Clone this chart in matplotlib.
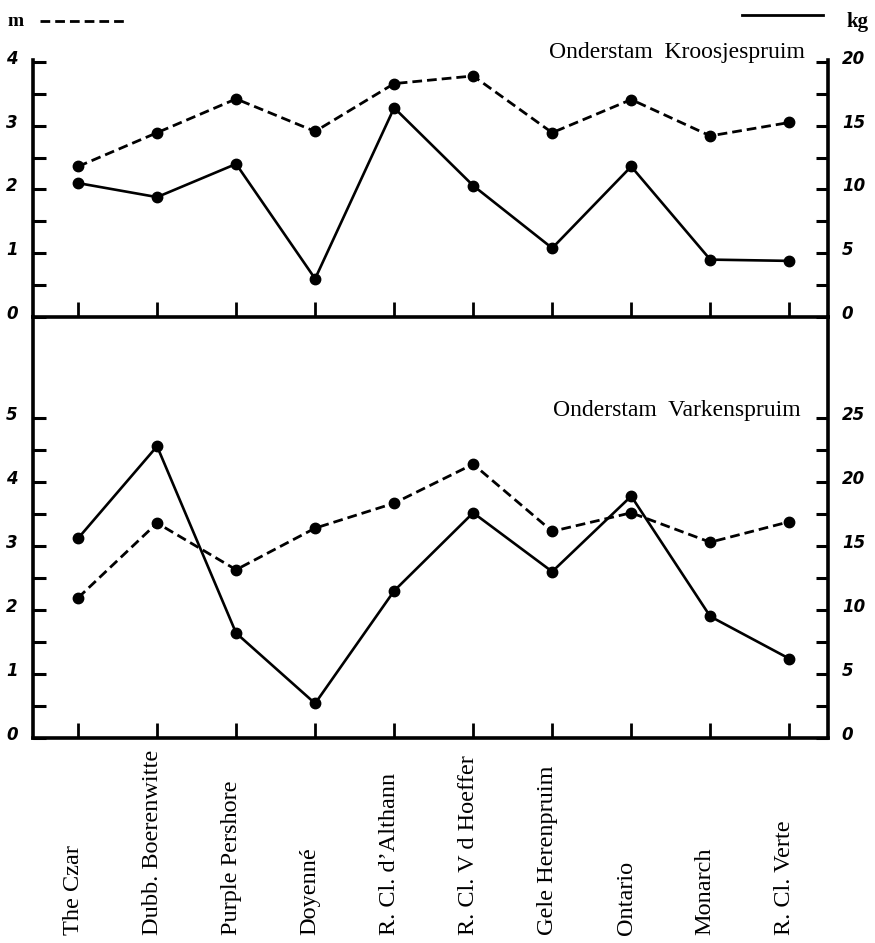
import matplotlib
matplotlib.use("Agg")
import matplotlib.pyplot as plt
import matplotlib.transforms as mtransforms
from matplotlib.lines import Line2D
import numpy as np

varieties = ["The Czar", "Dubb. Boerenwitte", "Purple Pershore", "Doyenné",
             "R. Cl. d\u2019Althann", "R. Cl. V d Hoeffer", "Gele Herenpruim",
             "Ontario", "Monarch", "R. Cl. Verte"]

# Onderstam Kroosjespruim: boomhoogte (m) en opbrengst (kg)
kroos_m = [2.36, 2.89, 3.42, 2.91, 3.66, 3.78, 2.89, 3.41, 2.84, 3.05]
kroos_kg = [10.5, 9.4, 12.0, 3.0, 16.4, 10.3, 5.4, 11.8, 4.5, 4.4]

# Onderstam Varkenspruim
varken_m = [2.19, 3.36, 2.63, 3.28, 3.67, 4.28, 3.23, 3.52, 3.06, 3.38]
varken_kg = [15.6, 22.8, 8.2, 2.7, 11.5, 17.6, 13.0, 18.9, 9.5, 6.2]

SERIF = "Liberation Serif"
NUMFONT = dict(family="DejaVu Sans", style="italic", weight="bold", size=12)
KG_PER_M = 5.0

fig = plt.figure(figsize=(8.75, 9.43), dpi=100)
x = np.arange(len(varieties))

L, W = 33 / 875, (828 - 33) / 875
top_rect = [L, 1 - 317 / 943, W, (317 - 60) / 943]
bot_rect = [L, 1 - 738 / 943, W, (738 - 317) / 943]


def make_panel(rect, m, kg, ytop, mmax, title, title_y):
    ax = fig.add_axes(rect)
    ax.patch.set_alpha(0)
    ax2 = ax.twinx()

    ax.plot(x, m, color="black", lw=2.0, dashes=(3.5, 1.8),
            marker="o", ms=7.5, zorder=3)
    ax2.plot(x, kg, color="black", lw=1.9, marker="o", ms=7.5, zorder=3)

    ax.set_xlim(-0.57, 9.49)
    ax.set_ylim(0, ytop)
    ax2.set_ylim(0, ytop * KG_PER_M)

    ax.set_yticks(np.arange(0, mmax + 0.01, 0.5))
    ax.set_yticklabels([str(int(v)) if v == int(v) else "" for v in
                        np.arange(0, mmax + 0.01, 0.5)], fontdict=NUMFONT)
    kgt = np.arange(0, mmax * KG_PER_M + 0.01, 2.5)
    ax2.set_yticks(kgt)
    ax2.set_yticklabels([str(int(v)) if v % 5 == 0 else "" for v in kgt],
                        fontdict=NUMFONT)
    ax.set_xticks(x)
    ax.set_xticklabels([])

    ax.tick_params(axis="y", direction="in", length=9, width=2.2, pad=11)
    ax2.tick_params(axis="y", direction="in", length=9, width=2.2, pad=10)
    ax.tick_params(axis="x", direction="in", length=11, width=2.0)

    # numbers sit a little above their ticks
    up = mtransforms.ScaledTranslation(0, 5 / 100, fig.dpi_scale_trans)
    for lab in ax.get_yticklabels() + ax2.get_yticklabels():
        lab.set_transform(lab.get_transform() + up)

    for a in (ax, ax2):
        a.spines["top"].set_visible(False)
        for s in a.spines.values():
            s.set_linewidth(2.6)
    ax.spines["right"].set_visible(False)
    ax2.spines["left"].set_visible(False)
    ax2.spines["bottom"].set_visible(False)

    ax.text(title[1], title_y, title[0], transform=ax.transAxes,
            ha="right", va="center", family=SERIF, fontsize=17)
    return ax


make_panel(top_rect, kroos_m, kroos_kg, 4.03, 4,
           ("Onderstam  Kroosjespruim", 0.971), 1.03)
axb = make_panel(bot_rect, varken_m, varken_kg, 6.58, 5,
                 ("Onderstam  Varkenspruim", 0.965), 0.779)

# variety names, read upwards from a common base line
shift = mtransforms.ScaledTranslation(-5 / 100, 0, fig.dpi_scale_trans)
trans = mtransforms.blended_transform_factory(axb.transData, fig.transFigure) + shift
for xi, name in zip(x, varieties):
    axb.text(xi, 1 - 935 / 943, name, transform=trans, rotation=90,
             ha="center", va="bottom", family=SERIF, fontsize=17.5)

# unit keys
fig.text(16 / 875, 1 - 22 / 943, "m", family=SERIF, fontsize=14,
         weight="bold", ha="center", va="center")
fig.add_artist(Line2D([40 / 875, 128 / 875], [1 - 21 / 943] * 2,
                      color="black", lw=2.0, dashes=(3.5, 1.8)))
fig.text(858 / 875, 1 - 22 / 943, "kg", family=SERIF, fontsize=15,
         weight="bold", ha="center", va="center")
fig.add_artist(Line2D([742 / 875, 823 / 875], [1 - 15 / 943] * 2,
                      color="black", lw=2.0))

fig.savefig("out.png", dpi=100)
